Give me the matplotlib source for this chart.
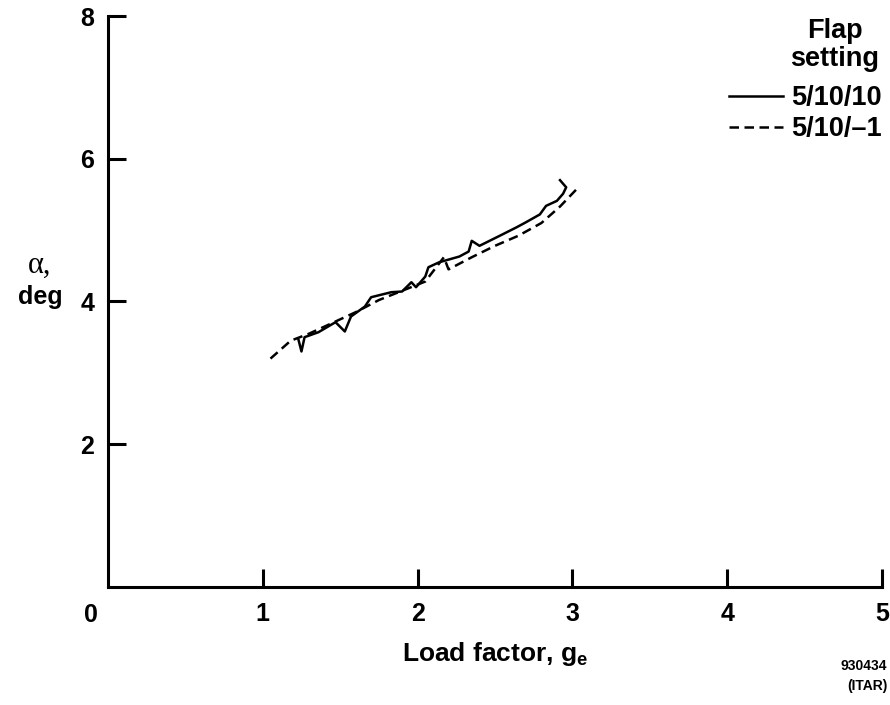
import numpy as np
import matplotlib.pyplot as plt

plt.rcParams["font.family"] = ["Liberation Sans", "DejaVu Sans"]
plt.rcParams["font.weight"] = "bold"
plt.rcParams["mathtext.fontset"] = "custom"
plt.rcParams["mathtext.rm"] = "Liberation Sans:bold"
plt.rcParams["mathtext.it"] = "Liberation Sans:bold"
plt.rcParams["mathtext.bf"] = "Liberation Sans:bold"

# flap setting 5/10/10 (solid)
load_solid = [1.23, 1.25, 1.27, 1.36, 1.47, 1.53, 1.57, 1.66, 1.70, 1.83, 1.90,
              1.96, 1.99, 2.05, 2.07, 2.14, 2.27, 2.33, 2.35, 2.40, 2.53, 2.64,
              2.70, 2.79, 2.83, 2.90, 2.94, 2.96, 2.92]
alpha_solid = [3.47, 3.30, 3.50, 3.57, 3.71, 3.58, 3.79, 3.93, 4.06, 4.13, 4.14,
               4.27, 4.20, 4.35, 4.48, 4.55, 4.63, 4.70, 4.85, 4.78, 4.92, 5.04,
               5.11, 5.22, 5.34, 5.41, 5.51, 5.60, 5.70]

# flap setting 5/10/-1 (dashed)
load_dash = [1.05, 1.18, 1.30, 1.45, 1.60, 1.75, 1.90, 2.05, 2.17, 2.20, 2.35,
             2.50, 2.65, 2.80, 2.92, 3.03]
alpha_dash = [3.20, 3.45, 3.55, 3.70, 3.85, 4.02, 4.15, 4.28, 4.62, 4.45, 4.62,
              4.78, 4.92, 5.10, 5.33, 5.58]

x_ticks = [1, 2, 3, 4, 5]
y_ticks = [2, 4, 6, 8]

fig = plt.figure(figsize=(8.9, 7.05), dpi=100)
ax = fig.add_axes([0.1213, 0.1674, 0.8697, 0.8099])

ax.plot(load_solid, alpha_solid, color="black", linewidth=1.8, label="5/10/10")
ax.plot(load_dash, alpha_dash, color="black", linewidth=1.8,
        linestyle=(0, (3.8, 2.2)), label="5/10/\u20131")

ax.set_xlim(0, 5)
ax.set_ylim(0, 8)
ax.spines["top"].set_visible(False)
ax.spines["right"].set_visible(False)
ax.spines["left"].set_linewidth(2.2)
ax.spines["bottom"].set_linewidth(2.2)
ax.set_xticks(x_ticks)
ax.set_xticklabels([str(v) for v in x_ticks])
ax.set_yticks(y_ticks)
ax.set_yticklabels([str(v) for v in y_ticks])
ax.tick_params(direction="in", length=13, width=2.2, labelsize=18)
ax.tick_params(axis="x", pad=11)
ax.tick_params(axis="y", pad=10)
fig.text(91 / 890, 1 - 615 / 705, "0", fontsize=18, fontweight="bold",
         ha="center", va="center")

ax.set_xlabel("Load factor, $\\mathregular{g_e}$", fontsize=19,
              fontweight="bold", labelpad=10)
fig.text(40 / 890, 1 - 265 / 705, "\u03b1,", fontsize=22,
         family="Liberation Serif", fontweight="normal",
         ha="center", va="center")
fig.text(40 / 890, 1 - 297 / 705, "deg", fontsize=18, fontweight="bold",
         ha="center", va="center")

fig.text(835 / 890, 1 - 45 / 705, "Flap\nsetting", fontsize=19.5,
         fontweight="bold", ha="center", va="center", linespacing=1.1)
leg = ax.legend(loc="upper right", bbox_to_anchor=(882 / 890, 1 - 85 / 705),
                bbox_transform=fig.transFigure, frameon=False, fontsize=19.5,
                handlelength=2.0, handletextpad=0.3, labelspacing=0.2,
                borderpad=0, borderaxespad=0)

fig.text(0.997, 1 - 676 / 705, "930434\n(ITAR)", fontsize=10,
         fontweight="bold", ha="right", va="center", linespacing=1.5)

fig.savefig("out.png", dpi=100)
